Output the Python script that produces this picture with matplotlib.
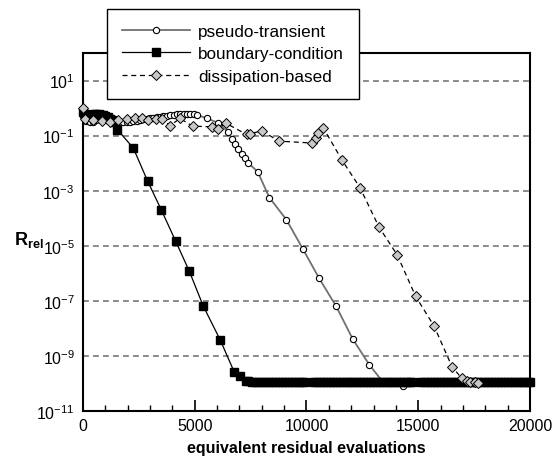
import matplotlib
matplotlib.use("Agg")
import matplotlib.pyplot as plt
from matplotlib.ticker import FixedLocator, NullLocator, MultipleLocator

plt.rcParams['font.family'] = ['Liberation Sans', 'DejaVu Sans']
plt.rcParams['mathtext.fontset'] = 'custom'
plt.rcParams['mathtext.rm'] = 'Liberation Sans'
plt.rcParams['mathtext.bf'] = 'Liberation Sans:bold'

# pseudo-transient
pt_x = [0, 150, 300, 450, 600, 750, 900, 1050, 1200, 1350, 1500, 1650, 1800, 1950,
        2100, 2250, 2400, 2550, 2700, 2850, 3000, 3150, 3300, 3450, 3600, 3750, 3900,
        4050, 4200, 4350, 4500, 4650, 4800, 4950, 5100, 5550, 6050, 6500, 6650, 6800,
        6950, 7100, 7250, 7400, 7820, 8340, 9100, 9840, 10570, 11320, 12070, 12810,
        13430, 14300]
pt_y = [0.5, 0.35, 0.3, 0.32, 0.36, 0.4, 0.42, 0.42, 0.4, 0.37, 0.34, 0.32, 0.31, 0.31,
        0.32, 0.33, 0.35, 0.37, 0.39, 0.41, 0.43, 0.45, 0.47, 0.49, 0.51, 0.53, 0.55,
        0.57, 0.59, 0.61, 0.62, 0.63, 0.62, 0.6, 0.57, 0.42, 0.29, 0.135, 0.078, 0.051,
        0.034, 0.022, 0.0155, 0.0102, 4.8e-3, 5.6e-4, 8.9e-5, 7.6e-6, 6.5e-7, 6.5e-8,
        4.1e-9, 4.8e-10, 1.1e-10, 8.3e-11]

# boundary-condition
bc_x = [0, 100, 200, 300, 400, 500, 600, 700, 800, 900, 1000, 1100, 1200, 1300, 1400,
        1535, 2250, 2890, 3500, 4150, 4760, 5380, 6140, 6770, 7020, 7290,
        7400, 7550, 7700, 7850, 8000, 8150, 8300, 8450, 8600, 8750, 8900, 9050, 9200,
        9350, 9500, 9650, 9800, 9870,
        10290, 10440, 10590, 10740, 10890, 11040, 11190, 11340, 11490, 11640, 11790,
        11940, 12090, 12240, 12390, 12540, 12690, 12840, 12990, 13140, 13290, 13440,
        13590, 13740, 13890, 14040, 14190, 14340, 14490, 14640, 14690,
        15100, 15250, 15400, 15550, 15700, 15850, 16000, 16150, 16300, 16450, 16600,
        16750, 16900, 17050, 17200, 17350, 17500, 17650, 17800, 17950, 18100, 18250,
        18400, 18550, 18700, 18850, 19000, 19150, 19300, 19450, 19600, 19750, 19900,
        20000]
bc_y = [0.7, 0.62, 0.58, 0.57, 0.58, 0.6, 0.6, 0.59, 0.57, 0.54, 0.5, 0.46, 0.41, 0.36,
        0.3, 0.166, 0.0355, 2.24e-3, 2.04e-4, 1.45e-5, 1.17e-6, 6.5e-8, 3.8e-9,
        2.57e-10, 1.82e-10, 1.26e-10,
        1.22e-10, 1.17e-10, 1.14e-10, 1.12e-10, 1.11e-10, 1.1e-10, 1.1e-10, 1.1e-10,
        1.1e-10, 1.1e-10, 1.1e-10, 1.1e-10, 1.1e-10, 1.1e-10, 1.1e-10, 1.1e-10,
        1.1e-10, 1.1e-10,
        1.1e-10, 1.1e-10, 1.1e-10, 1.1e-10, 1.1e-10, 1.1e-10, 1.1e-10, 1.1e-10,
        1.1e-10, 1.1e-10, 1.1e-10, 1.1e-10, 1.1e-10, 1.1e-10, 1.1e-10, 1.1e-10,
        1.1e-10, 1.1e-10, 1.1e-10, 1.1e-10, 1.1e-10, 1.1e-10, 1.1e-10, 1.1e-10,
        1.1e-10, 1.1e-10, 1.1e-10, 1.1e-10, 1.1e-10, 1.1e-10, 1.1e-10,
        1.1e-10, 1.1e-10, 1.1e-10, 1.1e-10, 1.1e-10, 1.1e-10, 1.1e-10, 1.1e-10,
        1.1e-10, 1.1e-10, 1.1e-10, 1.1e-10, 1.1e-10, 1.1e-10, 1.1e-10, 1.1e-10,
        1.1e-10, 1.1e-10, 1.1e-10, 1.1e-10, 1.1e-10, 1.1e-10, 1.1e-10, 1.1e-10,
        1.1e-10, 1.1e-10, 1.1e-10, 1.1e-10, 1.1e-10, 1.1e-10, 1.1e-10, 1.1e-10,
        1.1e-10, 1.1e-10]

# dissipation-based
db_x = [0, 90, 460, 835, 1208, 1580, 1955, 2326, 2624, 2922, 3250, 3550, 3892, 4340,
        4908, 5758, 6054, 6398, 7324, 7494, 7995, 8769, 10232, 10425, 10528, 10760,
        11574, 12393, 13243, 14062, 14885, 15705, 16510, 16943, 17167, 17315, 17539,
        17687]
db_y = [1.05, 0.4, 0.36, 0.35, 0.32, 0.36, 0.4, 0.42, 0.42, 0.36, 0.4, 0.4, 0.23, 0.42,
        0.22, 0.21, 0.18, 0.28, 0.11, 0.117, 0.15, 0.063, 0.054, 0.085, 0.12, 0.186,
        0.0135, 1.29e-3, 4.8e-5, 4.6e-6, 1.45e-7, 1.23e-8, 4.1e-10, 1.55e-10, 1.26e-10,
        1.17e-10, 1.1e-10, 1.05e-10]

y_ticks = [1e-11, 1e-9, 1e-7, 1e-5, 1e-3, 1e-1, 1e1]
x_ticks = [0, 5000, 10000, 15000, 20000]

fig = plt.figure(figsize=(5.59, 4.60), dpi=100)
ax = fig.add_axes([0.1485, 0.1043, 0.7996, 0.7783])

for y in y_ticks[1:]:
    ax.axhline(y, color="#777777", lw=1.2, ls=(0, (3.5, 2.5)), zorder=1)

ax.plot(pt_x, pt_y, color="#707070", lw=1.3, marker="o", ms=4.5, mfc="white",
        mec="black", mew=0.8, label="pseudo-transient", zorder=3, clip_on=False)
ax.plot(bc_x, bc_y, color="black", lw=0.9, marker="s", ms=5.2, mfc="black",
        mec="black", label="boundary-condition", zorder=4, clip_on=False)
ax.plot(db_x, db_y, color="black", lw=0.9, ls=(0, (4, 3)), marker="D", ms=5.2,
        mfc="#c8c8c8", mec="black", mew=0.7, label="dissipation-based", zorder=5,
        clip_on=False)

ax.set_yscale("log")
ax.set_xlim(0, 20000)
ax.set_ylim(1e-11, 1e2)
ax.yaxis.set_major_locator(FixedLocator(y_ticks))
ax.yaxis.set_minor_locator(NullLocator())
ax.xaxis.set_major_locator(FixedLocator(x_ticks))
ax.xaxis.set_minor_locator(MultipleLocator(1000))
ax.tick_params(axis="both", which="major", direction="in", labelsize=11.5, width=1.2)
ax.tick_params(axis="x", which="major", length=8, pad=5)
ax.tick_params(axis="x", which="minor", direction="in", length=4.5, width=1.0)
ax.tick_params(axis="y", which="major", length=0, pad=6)
for s in ax.spines.values():
    s.set_linewidth(1.5)

ax.set_xlabel("equivalent residual evaluations", fontsize=11.5, fontweight="bold",
              labelpad=5)
fig.text(0.052, 0.478, r"$\mathbf{R}_{\mathbf{rel}}$", fontsize=13, ha="center",
         va="center")

leg = ax.legend(loc="upper left", bbox_to_anchor=(0.1914, 0.978),
                bbox_transform=fig.transFigure, fontsize=12.3, handlelength=4.0,
                numpoints=1, fancybox=False, framealpha=1, edgecolor="black",
                borderpad=0.85, labelspacing=0.45, handletextpad=0.5, borderaxespad=0)
leg.get_frame().set_linewidth(1.0)
leg.set_zorder(10)

fig.savefig("out.png", dpi=100)
